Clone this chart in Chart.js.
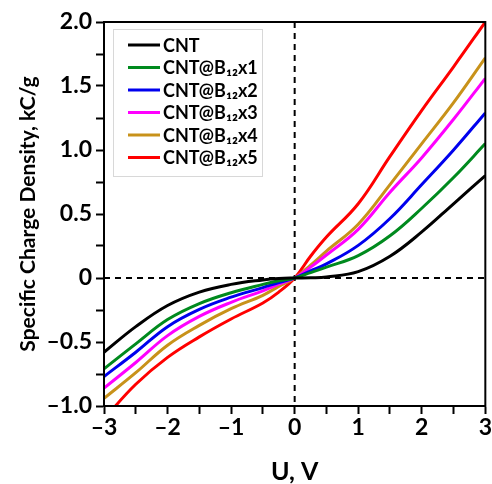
<!DOCTYPE html>
<html lang="en">
<head>
<meta charset="UTF-8">
<title>Specific charge density vs U</title>
<style>
  body { margin: 0; background: #fff; overflow: hidden; }
  #wrap { width: 492px; height: 484px; }
</style>
</head>
<body>
<div id="wrap"><canvas id="c"></canvas></div>
<script src="https://cdn.jsdelivr.net/npm/chart.js"></script>
<script>
// U, V
const voltage = [-3, -2.5, -2, -1.5, -1, -0.5, -0.25, 0, 0.25, 0.5, 1, 1.5, 2, 2.5, 3];
// specific charge density, kC/g
const cnt   = [-0.58, -0.38, -0.215, -0.11, -0.05, -0.015, -0.004, 0, 0.002, 0.008, 0.05, 0.17, 0.36, 0.58, 0.80];
const cntB1 = [-0.71, -0.515, -0.325, -0.20, -0.115, -0.05, -0.022, 0, 0.042, 0.085, 0.175, 0.33, 0.545, 0.785, 1.05];
const cntB2 = [-0.77, -0.58, -0.38, -0.245, -0.15, -0.075, -0.035, 0, 0.055, 0.11, 0.255, 0.465, 0.73, 1.00, 1.29];
const cntB3 = [-0.86, -0.66, -0.45, -0.30, -0.19, -0.10, -0.048, 0, 0.085, 0.18, 0.38, 0.67, 0.94, 1.24, 1.56];
const cntB4 = [-0.94, -0.74, -0.525, -0.37, -0.24, -0.135, -0.065, 0, 0.10, 0.21, 0.42, 0.73, 1.05, 1.37, 1.72];
const cntB5 = [-1.10, -0.83, -0.62, -0.46, -0.32, -0.195, -0.11, 0, 0.17, 0.32, 0.58, 0.95, 1.31, 1.65, 2.00];

const seriesNames  = ['CNT', 'CNT@B₁₂x1', 'CNT@B₁₂x2', 'CNT@B₁₂x3', 'CNT@B₁₂x4', 'CNT@B₁₂x5'];
const seriesValues = [cnt, cntB1, cntB2, cntB3, cntB4, cntB5];
const seriesColors = ['#000000', '#008a1e', '#0000ee', '#ff00ff', '#c8921a', '#ff0000'];

const xTicks = [-3, -2, -1, 0, 1, 2, 3];
const xTickLabels = ['–3', '–2', '–1', '0', '1', '2', '3'];
const yTicks = [-1, -0.5, 0, 0.5, 1, 1.5, 2];
const yTickLabels = ['–1.0', '–0.5', '0', '0.5', '1.0', '1.5', '2.0'];

const FONT = 'Lato, "Open Sans", sans-serif';

function tickLabel(ticks, labels) {
    return (v) => {
        const i = ticks.findIndex(t => Math.abs(t - v) < 1e-9);
        return i >= 0 ? labels[i] : '';
    };
}

// dashed zero lines + closed frame
const frame = {
    id: 'frame',
    beforeDatasetsDraw(chart) {
        const {ctx, chartArea: a, scales} = chart;
        const x0 = scales.x.getPixelForValue(0);
        const y0 = scales.y.getPixelForValue(0);
        ctx.save();
        ctx.strokeStyle = '#000';
        ctx.lineWidth = 2;
        ctx.setLineDash([6, 5]);
        ctx.beginPath();
        ctx.moveTo(x0, a.top);
        ctx.lineTo(x0, a.bottom);
        ctx.moveTo(a.left, y0);
        ctx.lineTo(a.right, y0);
        ctx.stroke();
        ctx.restore();
    },
    afterDraw(chart) {
        const {ctx, chartArea: a} = chart;
        ctx.save();
        ctx.strokeStyle = '#000';
        ctx.lineWidth = 2;
        ctx.strokeRect(a.left, a.top, a.right - a.left, a.bottom - a.top);
        ctx.restore();
    }
};

// legend box in the upper left corner of the plot
const insideLegend = {
    id: 'insideLegend',
    afterDraw(chart) {
        const {ctx, chartArea: a} = chart;
        const bx = a.left + 9, by = a.top + 7, bw = 149, rowH = 22.5;
        const sets = chart.data.datasets;
        const bh = rowH * sets.length + 12;
        ctx.save();
        ctx.fillStyle = '#fff';
        ctx.fillRect(bx, by, bw, bh);
        ctx.strokeStyle = '#d8d8d8';
        ctx.lineWidth = 1;
        ctx.strokeRect(bx + 0.5, by + 0.5, bw, bh);
        ctx.font = 'bold 18px ' + FONT;
        ctx.textBaseline = 'middle';
        sets.forEach((ds, i) => {
            const y = by + 16 + i * rowH;
            ctx.strokeStyle = ds.borderColor;
            ctx.lineWidth = 3;
            ctx.beginPath();
            ctx.moveTo(bx + 15, y);
            ctx.lineTo(bx + 47, y);
            ctx.stroke();
            ctx.fillStyle = '#000';
            ctx.fillText(ds.label, bx + 50, y + 1);
        });
        ctx.restore();
    }
};

new Chart(document.getElementById('c'), {
    type: 'line',
    data: {
        datasets: seriesNames.map((name, k) => ({
            label: name,
            data: voltage.map((u, i) => ({x: u, y: seriesValues[k][i]})),
            borderColor: seriesColors[k],
            backgroundColor: seriesColors[k],
            borderWidth: 3,
            pointRadius: 0,
            fill: false,
            tension: 0.4
        }))
    },
    options: {
        responsive: true,
        maintainAspectRatio: false,
        animation: false,
        layout: {padding: {top: 22, right: 6, left: 0, bottom: 0}},
        plugins: {legend: {display: false}, tooltip: {enabled: false}},
        scales: {
            x: {
                type: 'linear',
                min: -3, max: 3,
                afterFit: (s) => { s.height = 78; },
                ticks: {
                    stepSize: 0.5, autoSkip: false, maxRotation: 0,
                    color: '#000', font: {family: FONT, size: 23, weight: 'bold'},
                    padding: 0,
                    callback: tickLabel(xTicks, xTickLabels)
                },
                grid: {drawOnChartArea: false, drawTicks: true, tickLength: 8, tickWidth: 2, tickColor: '#000'},
                border: {display: true, color: '#000', width: 2},
                title: {display: true, text: 'U, V', color: '#000',
                        font: {family: FONT, size: 25, weight: 'bold', lineHeight: 1}, padding: {top: 0, bottom: 0}}
            },
            y: {
                min: -1, max: 2,
                afterFit: (s) => { s.width = 104; },
                ticks: {
                    stepSize: 0.25, autoSkip: false,
                    color: '#000', font: {family: FONT, size: 23, weight: 'bold'},
                    padding: 4,
                    callback: tickLabel(yTicks, yTickLabels)
                },
                grid: {drawOnChartArea: false, drawTicks: true, tickLength: 8, tickWidth: 2, tickColor: '#000'},
                border: {display: true, color: '#000', width: 2},
                title: {display: true, text: 'Specific Charge Density, kC/g', color: '#000',
                        font: {family: FONT, size: 21, weight: 'bold'}, padding: {top: 16, bottom: 0}}
            }
        }
    },
    plugins: [frame, insideLegend]
});
</script>
</body>
</html>
